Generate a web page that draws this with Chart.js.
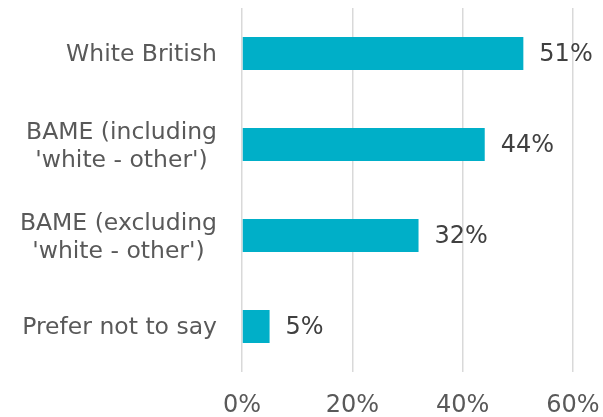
<!DOCTYPE html>
<html>
<head>
<meta charset="utf-8">
<script src="https://cdn.jsdelivr.net/npm/chart.js@4"></script>
<style>
  html, body { margin: 0; padding: 0; background: #fff; }
  #wrap { width: 603px; height: 417px; }
</style>
</head>
<body>
<div id="wrap"><canvas id="chart"></canvas></div>
<script>
// categories (top to bottom) and shares in %
const CATEGORIES = [
  'White British',
  ['BAME (including', "'white - other')"],
  ['BAME (excluding', "'white - other')"],
  'Prefer not to say'
];
const SHARES = [51, 44, 32, 5];
const X_MAX = 60;
const X_STEP = 20;

const BAR_COLOR = '#00AFC8';
const TEXT_COLOR = '#595959';
const FONT = 'DejaVu Sans, Verdana, sans-serif';

// category labels: blocks right-aligned to the axis, lines centred within a block
const catLabels = {
  id: 'catLabels',
  afterDraw(chart) {
    const ctx = chart.ctx;
    const y = chart.scales.y;
    const right = chart.chartArea.left - 25;
    const lh = 27.5;
    ctx.save();
    ctx.font = '23.5px ' + FONT;
    ctx.fillStyle = TEXT_COLOR;
    ctx.textAlign = 'center';
    ctx.textBaseline = 'middle';
    CATEGORIES.forEach((lab, i) => {
      const lines = Array.isArray(lab) ? lab : [lab];
      const w = Math.max(...lines.map(l => ctx.measureText(l).width));
      const cx = right - w / 2;
      const cy = y.getPixelForValue(i) + (lines.length > 1 ? 2.5 : 1);
      lines.forEach((l, j) => {
        ctx.fillText(l, cx, cy + (j - (lines.length - 1) / 2) * lh);
      });
    });
    ctx.restore();
  }
};

// value labels to the right of each bar
const barLabels = {
  id: 'barLabels',
  afterDatasetsDraw(chart) {
    const ctx = chart.ctx;
    const meta = chart.getDatasetMeta(0);
    ctx.save();
    ctx.font = '24px ' + FONT;
    ctx.fillStyle = '#404040';
    ctx.textAlign = 'left';
    ctx.textBaseline = 'middle';
    meta.data.forEach((bar, i) => {
      ctx.fillText(SHARES[i] + '%', bar.x + 16, bar.y + 1);
    });
    ctx.restore();
  }
};

new Chart(document.getElementById('chart'), {
  type: 'bar',
  data: {
    labels: CATEGORIES,
    datasets: [{
      data: SHARES,
      backgroundColor: BAR_COLOR,
      barPercentage: 0.9,
      categoryPercentage: 0.403
    }]
  },
  plugins: [barLabels, catLabels],
  options: {
    indexAxis: 'y',
    responsive: true,
    maintainAspectRatio: false,
    animation: false,
    layout: { padding: { top: 8, right: 30, left: 0, bottom: 0 } },
    plugins: { legend: { display: false }, tooltip: { enabled: false } },
    scales: {
      x: {
        min: 0, max: X_MAX,
        grid: { color: '#d9d9d9', lineWidth: 1.5, drawTicks: false },
        border: { display: false },
        ticks: {
          stepSize: X_STEP,
          padding: 19,
          maxRotation: 0,
          color: TEXT_COLOR,
          font: { family: FONT, size: 24 },
          callback: v => v + '%'
        },
        afterFit(scale) {
          scale.height = 45;
          scale.paddingLeft = 0;
          scale.paddingRight = 0;
        }
      },
      y: {
        grid: { display: false },
        border: { display: false },
        ticks: { display: false },
        afterFit(scale) {
          scale.width = 242;
          scale.paddingTop = 0;
          scale.paddingBottom = 0;
        }
      }
    }
  }
});
</script>
</body>
</html>
